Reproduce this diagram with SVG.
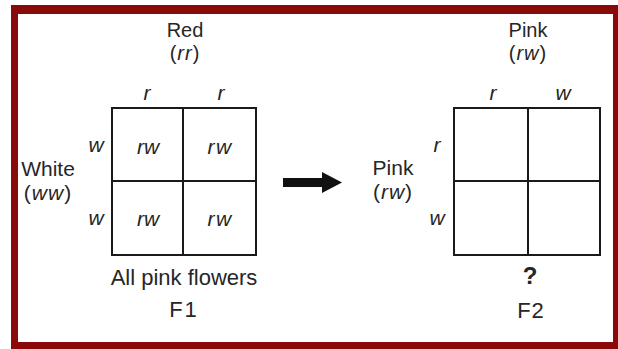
<svg xmlns="http://www.w3.org/2000/svg" width="618" height="349" viewBox="0 0 618 349">
<style>
text{font-family:"Liberation Sans",Arial,sans-serif;font-size:21px;fill:#262626;text-anchor:middle}
.i{font-style:italic}
.s{font-size:20px}
.grid{fill:none;stroke:#1a1a1a;stroke-width:2}
</style>
<rect x="0" y="0" width="618" height="349" fill="#ffffff"/>
<rect x="11" y="5" width="607" height="344" fill="#8a0a0a"/>
<rect x="18" y="14" width="595" height="328" fill="#ffffff"/>
<g id="parent-red">
<text class="s" x="185" y="37">Red</text>
<text class="s" x="185" y="60" letter-spacing="1">(<tspan class="i">rr</tspan>)</text>
<text class="i" x="147" y="100">r</text>
<text class="i" x="221" y="100">r</text>
</g>
<g id="parent-white">
<text x="48" y="176">White</text>
<text x="48" y="200" letter-spacing="1">(<tspan class="i">ww</tspan>)</text>
<text class="i" x="96" y="152">w</text>
<text class="i" x="96" y="225">w</text>
</g>
<g id="f1-square">
<rect class="grid" x="112" y="108" width="144" height="147"/>
<line class="grid" x1="183" y1="108" x2="183" y2="255"/>
<line class="grid" x1="112" y1="181" x2="256" y2="181"/>
<text class="i" x="148" y="154">rw</text>
<text class="i" x="220" y="154" letter-spacing="1.5">rw</text>
<text class="i" x="148" y="226">rw</text>
<text class="i" x="220" y="226" letter-spacing="1.5">rw</text>
<text x="184" y="285" style="font-size:22px">All pink flowers</text>
<text x="184" y="317" style="font-size:22px" letter-spacing="2">F1</text>
</g>
<g id="connectors">
<path d="M283 178 H322 V172 L342 182.5 L322 193 V187 H283 Z" fill="#111"/>
</g>
<g id="parent-pink-top">
<text class="s" x="528" y="37">Pink</text>
<text class="s" x="528" y="60" letter-spacing="1">(<tspan class="i">rw</tspan>)</text>
<text class="i" x="493" y="100">r</text>
<text class="i" x="563" y="100">w</text>
</g>
<g id="parent-pink-left">
<text x="393" y="175">Pink</text>
<text x="393" y="199" letter-spacing="1">(<tspan class="i">rw</tspan>)</text>
<text class="i" x="437" y="152">r</text>
<text class="i" x="437" y="225">w</text>
</g>
<g id="f2-square">
<rect class="grid" x="454" y="108" width="146" height="147"/>
<line class="grid" x1="528" y1="108" x2="528" y2="255"/>
<line class="grid" x1="454" y1="181" x2="600" y2="181"/>
<text x="530" y="284" style="font-size:24px;font-weight:bold">?</text>
<text x="531" y="318" style="font-size:22px" letter-spacing="1">F2</text>
</g>
</svg>
